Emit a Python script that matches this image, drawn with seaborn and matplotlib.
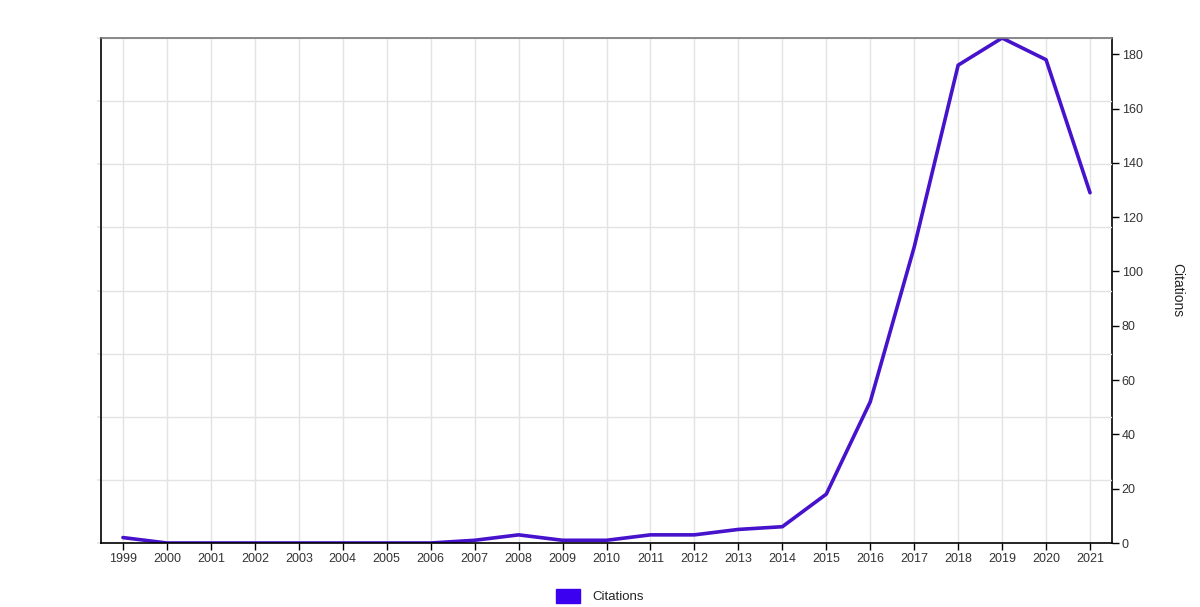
import numpy as np
import pandas as pd
import matplotlib
matplotlib.use("Agg")
import matplotlib.pyplot as plt
import seaborn as sns
from matplotlib.patches import Patch

years = list(range(1999, 2022))
citations = [2, 0, 0, 0, 0, 0, 0, 0, 1, 3, 1, 1, 3, 3, 5, 6, 18, 52, 109, 176, 186, 178, 129]
right_ticks = [0, 20, 40, 60, 80, 100, 120, 140, 160, 180]
series_name = "Citations"

df = pd.DataFrame({"Year": years, "Citations": citations})

sns.set_theme(style="white")
plt.rcParams['font.family'] = ['Liberation Sans', 'DejaVu Sans']

line_color = "#4612cc"
legend_color = "#3c00f0"

fig = plt.figure(figsize=(12, 6.07), dpi=100)
ax = fig.add_axes([101/1200, 1 - 543/607, (1112 - 101)/1200, (543 - 38)/607])

sns.lineplot(data=df, x="Year", y="Citations", ax=ax, color=line_color, linewidth=2.6, legend=False)

ymax = 186
ax.set_xlim(1998.5, 2021.5)
ax.set_ylim(0, ymax)
ax.set_xticks(years)
ax.set_xticklabels([str(y) for y in years], fontsize=9, color="#333333")
ax.set_yticks(np.linspace(0, ymax, 9))
ax.set_yticklabels([])
ax.tick_params(axis="y", length=3, color="#e6e6e6", left=True)
ax.tick_params(axis="x", length=5, width=1, color="#000000", bottom=True, pad=2)
ax.grid(True, color="#e3e3e3", linewidth=1)
ax.set_xlabel("")
ax.set_ylabel("")
for s in ["left", "bottom"]:
    ax.spines[s].set_color("#000000")
    ax.spines[s].set_linewidth(1.2)
ax.spines["top"].set_color("#777777")
ax.spines["top"].set_linewidth(1.2)
ax.spines["right"].set_visible(False)

ax2 = ax.twinx()
ax2.set_ylim(0, ymax)
ax2.set_yticks(right_ticks)
ax2.set_yticklabels([str(t) for t in right_ticks], fontsize=9, color="#333333")
ax2.tick_params(axis="y", right=True, length=5, width=1, color="#000000", pad=2)
ax2.grid(False)
for s in ["left", "bottom", "top"]:
    ax2.spines[s].set_visible(False)
ax2.spines["right"].set_color("#000000")
ax2.spines["right"].set_linewidth(1.2)
ax2.set_ylabel("Citations", rotation=-90, labelpad=30, fontsize=10, color="#222222")
ax.set_zorder(ax2.get_zorder() + 1)
ax.patch.set_visible(False)

handles = [Patch(facecolor=legend_color, edgecolor=legend_color, label=series_name)]
fig.legend(handles=handles, loc="center", bbox_to_anchor=(0.5, 1 - 596/607), frameon=False,
           fontsize=9.5, handlelength=1.8, handleheight=1.3, handletextpad=1.0)

fig.savefig("out.png", dpi=100)
